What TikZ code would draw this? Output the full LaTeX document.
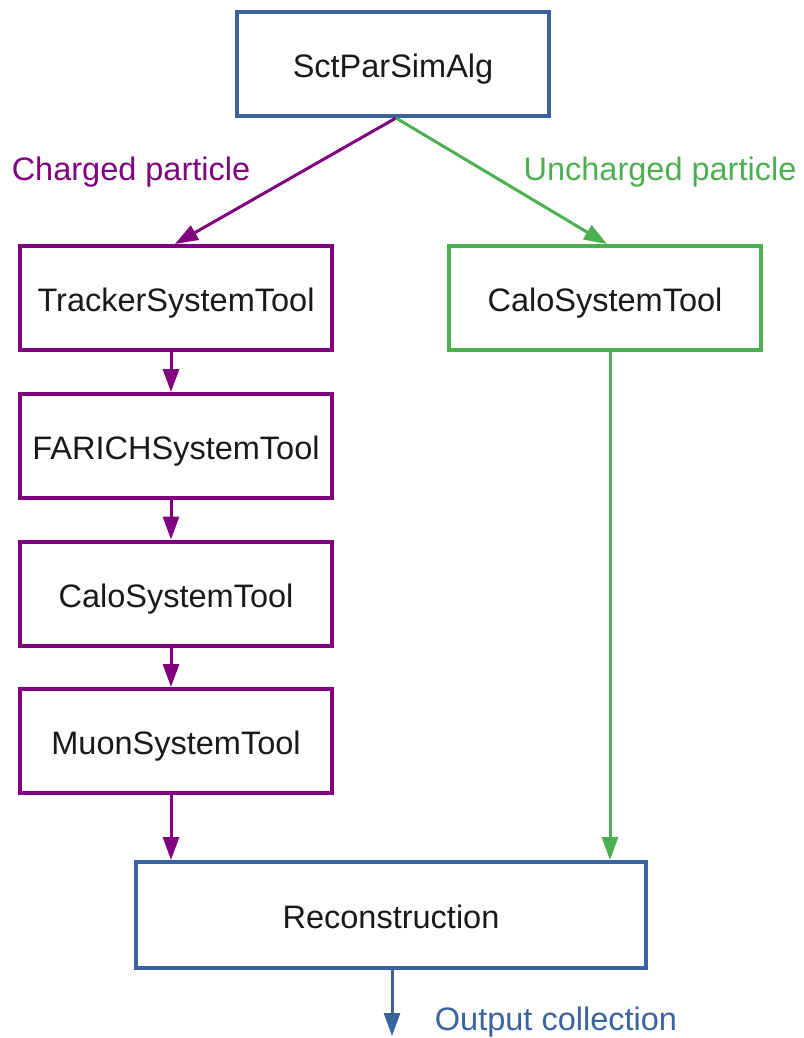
\documentclass[tikz,border=0pt]{standalone}
\usepackage{fontspec}
\setmainfont{Liberation Sans}
\usetikzlibrary{arrows.meta,calc}
\definecolor{cblue}{RGB}{58,99,159}
\definecolor{cpurple}{RGB}{128,0,128}
\definecolor{cgreen}{RGB}{76,175,80}
\begin{document}
\begin{tikzpicture}[x=1pt,y=-1pt,
  box/.style={draw, line width=4pt, minimum width=312pt, minimum height=104pt, inner sep=0pt, text height=27pt, text depth=0pt, font=\fontsize{32.5}{36}\selectfont, text=black!90},
  bluebox/.style={box, draw=cblue},
  purplebox/.style={box, draw=cpurple},
  greenbox/.style={box, draw=cgreen},
  conn/.style={line width=3pt, -{Triangle[length=23pt,width=16pt]}},
  lbl/.style={font=\fontsize{32.5}{36}\selectfont, inner sep=0pt, anchor=base}
]
\useasboundingbox (0,0) rectangle (803,1038);
\node[bluebox] (alg) at (393,64) {SctParSimAlg};
\node[purplebox] (trk) at (176,298) {TrackerSystemTool};
\node[purplebox] (far) at (176,446) {FARICHSystemTool};
\node[purplebox] (cal) at (176,593.5) {CaloSystemTool};
\node[purplebox] (muo) at (176,741) {MuonSystemTool};
\node[greenbox] (calr) at (605,298) {CaloSystemTool};
\node[bluebox, minimum width=510pt, minimum height=106pt] (reco) at (391,915) {Reconstruction};
\coordinate (top) at (396,118);
\coordinate (pl) at (171,0);
\coordinate (gr) at (610,0);
\coordinate (out) at (392,1036);
\draw[conn, cpurple] (alg.south -| top) -- (trk.north -| 175,0);
\draw[conn, cgreen] (alg.south -| top) -- (calr.north -| 607,0);
\draw[conn, cpurple] (trk.south -| pl) -- (far.north -| pl);
\draw[conn, cpurple] (far.south -| pl) -- (cal.north -| pl);
\draw[conn, cpurple] (cal.south -| pl) -- (muo.north -| pl);
\draw[conn, cpurple] (muo.south -| pl) -- (reco.north -| pl);
\draw[conn, cgreen] (calr.south -| gr) -- (reco.north -| gr);
\draw[conn, cblue] (reco.south -| out) -- (out);
\node[lbl, text=cpurple] (lc) at (131,180) {Charged particle};
\node[lbl, text=cgreen] (lu) at (660,180) {Uncharged particle};
\node[lbl, text=cblue] (lo) at (556,1030) {Output collection};
\end{tikzpicture}
\end{document}
